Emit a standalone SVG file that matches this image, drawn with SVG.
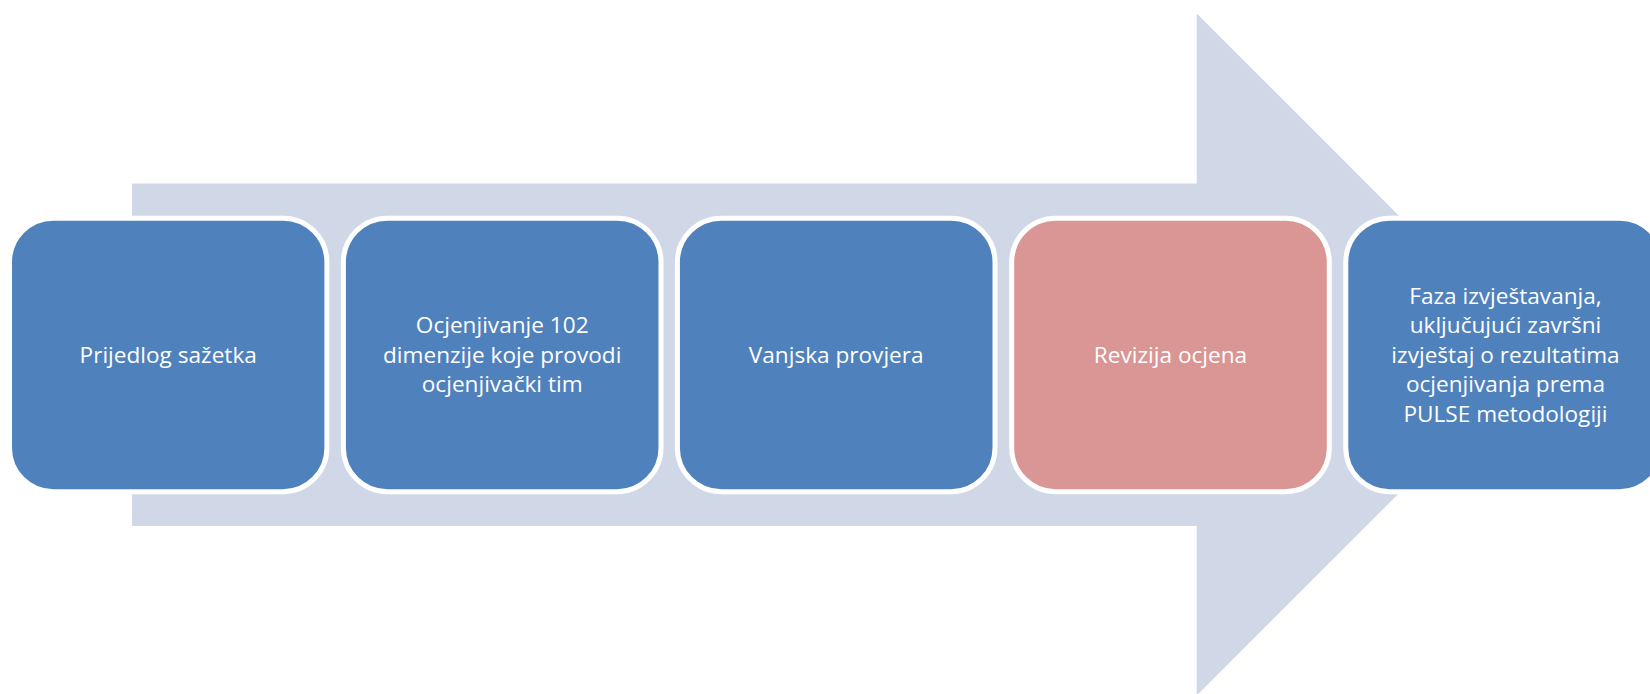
<svg xmlns="http://www.w3.org/2000/svg" width="1650" height="694" viewBox="0 0 1650 694">
<style>
.box{stroke:#FFFFFF;stroke-width:5}
.blue{fill:#4F81BD}
.pink{fill:#D99694}
.lbl{font-family:"Open Sans","Noto Sans","DejaVu Sans",sans-serif;font-size:22.6px;fill:#FFFFFF;text-anchor:middle}
</style>
<rect width="1650" height="694" fill="#FFFFFF"/>
<g id="arrow">
<polygon points="132,183.5 1196.7,183.5 1196.7,13.5 1537.7,354.5 1196.7,695.5 1196.7,526 132,526" fill="#D0D8E8"/>
</g>
<g id="connectors"></g>
<g id="node1">
<rect class="box blue" x="9.5" y="218.2" width="317.4" height="273.5" rx="44" ry="44"/>
<text class="lbl" x="168.2" y="362.5">Prijedlog sažetka</text>
</g>
<g id="node2">
<rect class="box blue" x="343.4" y="218.2" width="317.6" height="273.5" rx="44" ry="44"/>
<text class="lbl" x="502.2" y="333">Ocjenjivanje 102</text>
<text class="lbl" x="502.2" y="362.5">dimenzije koje provodi</text>
<text class="lbl" x="502.2" y="392">ocjenjivački tim</text>
</g>
<g id="node3">
<rect class="box blue" x="677.4" y="218.2" width="317.6" height="273.5" rx="44" ry="44"/>
<text class="lbl" x="836.2" y="362.5">Vanjska provjera</text>
</g>
<g id="node4">
<rect class="box pink" x="1011.7" y="218.2" width="317.6" height="273.5" rx="44" ry="44"/>
<text class="lbl" x="1170.5" y="362.5">Revizija ocjena</text>
</g>
<g id="node5">
<rect class="box blue" x="1345.8" y="218.2" width="317.6" height="273.5" rx="44" ry="44"/>
<text class="lbl" x="1505.5" y="303.5">Faza izvještavanja,</text>
<text class="lbl" x="1505.5" y="333">uključujući završni</text>
<text class="lbl" x="1505.5" y="362.5">izvještaj o rezultatima</text>
<text class="lbl" x="1505.5" y="392">ocjenjivanja prema</text>
<text class="lbl" x="1505.5" y="421.5">PULSE metodologiji</text>
</g>
</svg>
